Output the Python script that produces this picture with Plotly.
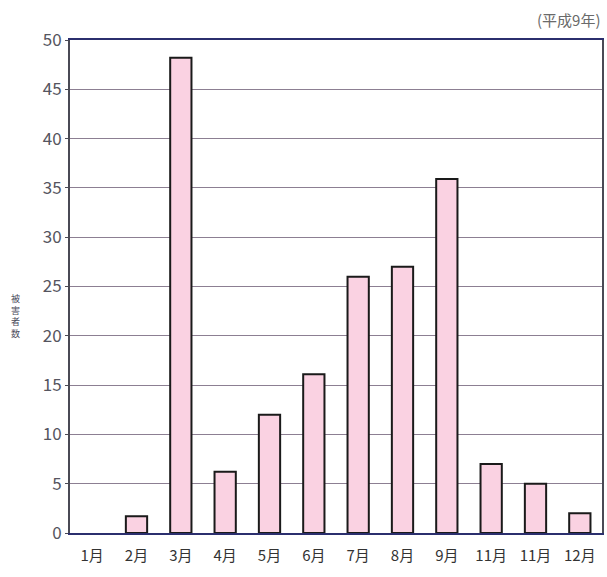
import plotly.graph_objects as go

# Monthly counts (平成9年)
months = ["1月", "2月", "3月", "4月", "5月", "6月", "7月", "8月", "9月", "11月", "11月", "12月"]
counts = [0, 1.7, 48.2, 6.2, 12, 16.1, 26, 27, 35.9, 7, 5, 2]
y_ticks = [0, 5, 10, 15, 20, 25, 30, 35, 40, 45, 50]

positions = list(range(len(months)))
font_family = "Noto Sans CJK JP, Noto Sans, sans-serif"

# empty months get no outline so nothing is drawn on the baseline
outline_widths = [2 if v > 0 else 0 for v in counts]

fig = go.Figure(
    go.Bar(
        x=positions,
        y=counts,
        width=0.48,
        marker=dict(color="#fad2e2", line=dict(color="#1a1a1a", width=outline_widths)),
        hoverinfo="skip",
    )
)

fig.update_layout(
    width=607,
    height=577,
    margin=dict(l=70, r=3, t=40, b=44),
    paper_bgcolor="white",
    plot_bgcolor="white",
    showlegend=False,
    annotations=[
        dict(
            text="(平成9年)", xref="paper", yref="paper", x=1.0, y=1.0,
            xanchor="right", yanchor="bottom", yshift=8, showarrow=False,
            font=dict(family=font_family, size=15, color="#6a6a6a"),
        ),
        dict(
            text="被<br>害<br>者<br>数", xref="paper", yref="paper", x=-0.103, y=0.44,
            xanchor="center", yanchor="middle", showarrow=False,
            font=dict(family=font_family, size=9, color="#4a4a5a"),
        ),
    ],
)

fig.update_xaxes(
    range=[-0.5, len(months) - 0.5],
    tickvals=positions,
    ticktext=months,
    tickfont=dict(family=font_family, size=15, color="#333333"),
    showline=True, linecolor="#2b2f6e", linewidth=2, mirror=True,
    showgrid=False, ticks="", ticklen=0, ticklabelstandoff=8,
)

fig.update_yaxes(
    range=[0, 50],
    tickvals=y_ticks,
    tickfont=dict(family=font_family, size=17, color="#555560"),
    showline=True, linecolor="#4a4a55", linewidth=2, mirror=True,
    showgrid=True, gridcolor="#8c7f92", gridwidth=1,
    ticks="outside", ticklen=3, tickcolor="#4a4a55",
    zeroline=False,
)

fig.write_html("out.html")
